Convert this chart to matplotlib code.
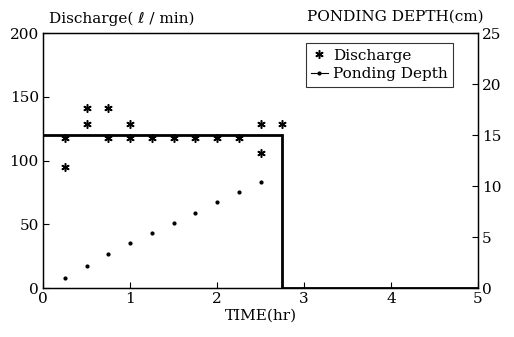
import matplotlib
matplotlib.use("Agg")
import matplotlib.pyplot as plt
from matplotlib.lines import Line2D

plt.rcParams['font.family'] = ['DejaVu Serif', 'DejaVu Sans']

# Discharge observations (l/min)
dis_time = [0.25, 0.25, 0.5, 0.5, 0.75, 0.75, 1.0, 1.0, 1.25, 1.5, 1.75, 2.0, 2.25, 2.5, 2.5, 2.75]
dis_val = [118, 95, 141, 129, 141, 118, 129, 118, 118, 118, 118, 118, 118, 129, 106, 129]

# Step (inflow) line
step_time = [0, 2.75, 2.75, 5]
step_val = [120, 120, 0, 0]

# Ponding depth (cm)
pond_time = [0.25, 0.5, 0.75, 1.0, 1.25, 1.5, 1.75, 2.0, 2.25, 2.5]
pond_val = [1.0, 2.2, 3.3, 4.4, 5.4, 6.4, 7.4, 8.4, 9.4, 10.4]

x_ticks = [0, 1, 2, 3, 4, 5]
left_ticks = [0, 50, 100, 150, 200]
right_ticks = [0, 5, 10, 15, 20, 25]

fig = plt.figure(figsize=(5.14, 3.37), dpi=100)
ax = fig.add_axes([0.0837, 0.1454, 0.8463, 0.7566])
ax2 = ax.twinx()

fs = 11
ast = (6, 2, 0)
ax.plot(step_time, step_val, color='black', lw=2.0, solid_joinstyle='miter')
ax.plot(dis_time, dis_val, linestyle='none', marker=ast, color='black',
        markersize=6, markeredgewidth=1.1)
ax2.plot(pond_time, pond_val, linestyle='none', marker='o', color='black', markersize=2)

ax.set_xlim(0, 5)
ax.set_ylim(0, 200)
ax2.set_ylim(0, 25)
ax.set_xticks(x_ticks)
ax.set_yticks(left_ticks)
ax2.set_yticks(right_ticks)
for a in (ax, ax2):
    a.tick_params(direction='in', labelsize=fs, length=4, width=0.8, pad=3)
    for s in a.spines.values():
        s.set_linewidth(0.9)

ax.set_xlabel('TIME(hr)', fontsize=fs, labelpad=2)
fig.text(0.095, 0.945, 'Discharge( \u2113 / min)', fontsize=fs, ha='left', va='center')
fig.text(0.94, 0.95, 'PONDING DEPTH(cm)', fontsize=fs, ha='right', va='center')

handles = [
    Line2D([], [], linestyle='none', marker=ast, color='black', markersize=6, markeredgewidth=1.1),
    Line2D([], [], linestyle='-', lw=0.8, marker='o', color='black', markersize=2),
]
leg = ax.legend(handles, ['Discharge', 'Ponding Depth'], loc='upper right',
                bbox_to_anchor=(0.943, 0.96), fontsize=fs, frameon=True, fancybox=False,
                edgecolor='black', handlelength=1.1, handletextpad=0.35,
                borderpad=0.35, labelspacing=0.3, borderaxespad=0)
leg.get_frame().set_linewidth(0.8)

fig.savefig('out.png', dpi=100)
